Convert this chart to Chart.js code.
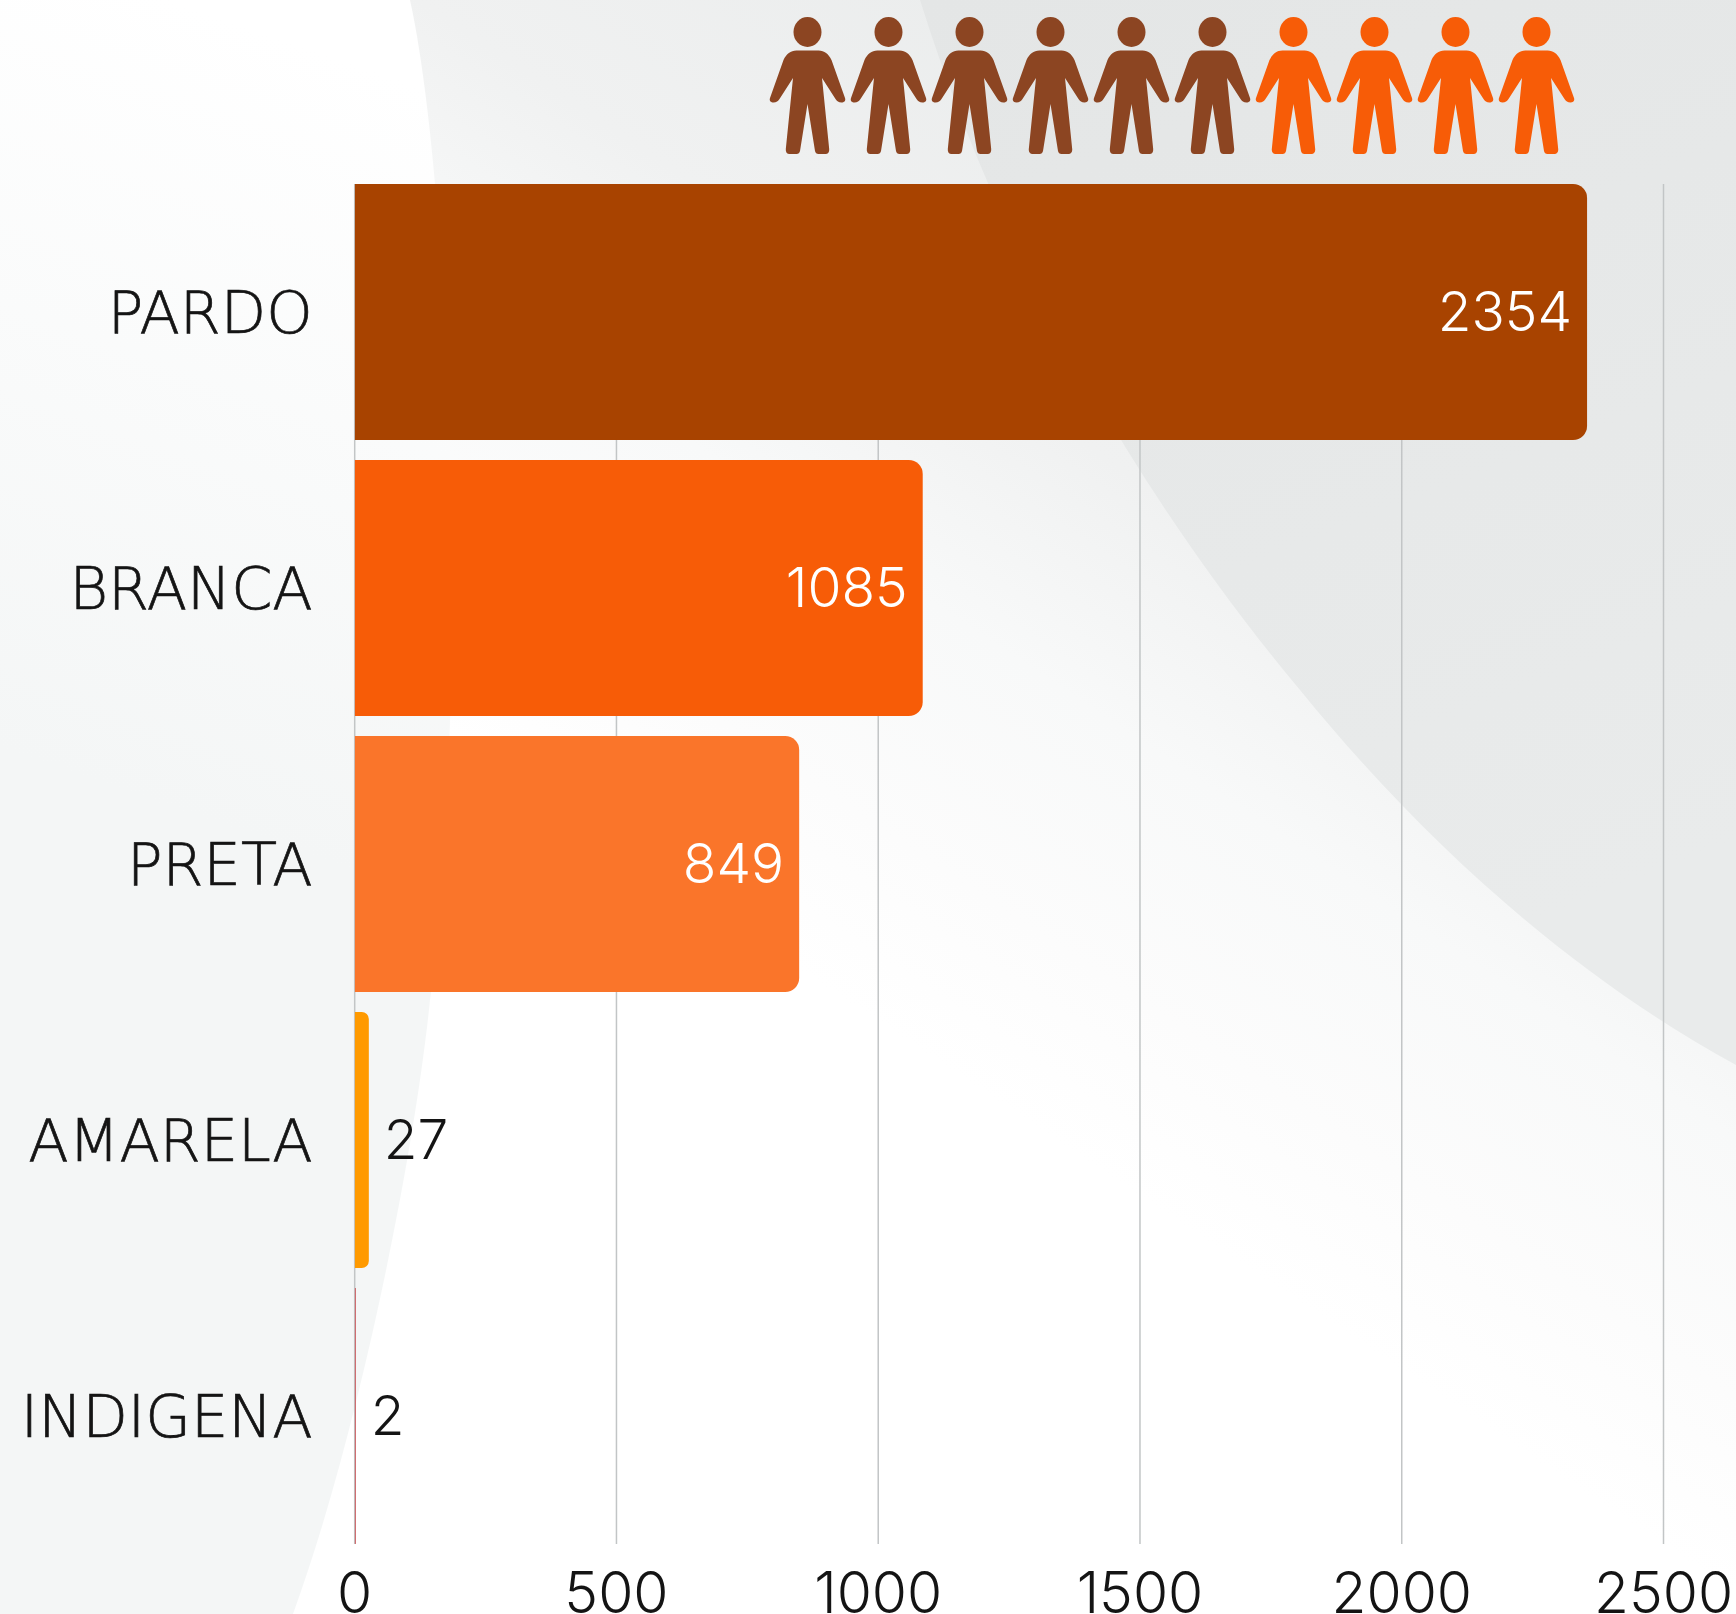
<!DOCTYPE html>
<html>
<head>
<meta charset="utf-8">
<title>Raça/cor</title>
<script src="https://cdn.jsdelivr.net/npm/chart.js@4"></script>
<style>
  html, body { margin: 0; padding: 0; background: #fff; }
  #wrap { position: relative; width: 1736px; height: 1614px; overflow: hidden; }
  #wrap svg, #wrap canvas { position: absolute; left: 0; top: 0; }
</style>
</head>
<body>
<div id="wrap">
  <svg id="bg" width="1736" height="1614" viewBox="0 0 1736 1614">
    <defs>
      <linearGradient id="midFade" gradientUnits="userSpaceOnUse" x1="1400" y1="200" x2="800" y2="1100">
        <stop offset="0" stop-color="#eaecec"/>
        <stop offset="0.35" stop-color="#f0f1f1"/>
        <stop offset="0.55" stop-color="#f8f9f9"/>
        <stop offset="0.75" stop-color="#fcfcfc"/>
        <stop offset="0.9" stop-color="#ffffff"/>
      </linearGradient>
      <linearGradient id="leftFade" gradientUnits="userSpaceOnUse" x1="400" y1="80" x2="150" y2="800">
        <stop offset="0" stop-color="#ffffff"/>
        <stop offset="1" stop-color="#f4f6f6"/>
      </linearGradient>
      <linearGradient id="rightFade" x1="0" y1="0" x2="0.3" y2="1">
        <stop offset="0" stop-color="#e4e6e6"/>
        <stop offset="1" stop-color="#e9ebeb"/>
      </linearGradient>
    </defs>
    <rect width="1736" height="1614" fill="url(#midFade)"/>
    <path d="M0 0H410C450 180 470 700 430 1000C415 1150 360 1430 293 1614H0Z" fill="url(#leftFade)"/>
    <path d="M920 0C995 240 1125 480 1300 690C1430 850 1580 980 1736 1065V0Z" fill="url(#rightFade)"/>
  </svg>
  <canvas id="chart" width="1736" height="1614"></canvas>
  <svg id="people" width="1736" height="1614" viewBox="0 0 1736 1614">
    <defs>
      <g id="person">
        <ellipse cx="0" cy="32" rx="14" ry="15"/>
        <path d="M-11 50.5H11C17 50.5 21 54 24 60L37.5 98C38.5 101 36.5 102.5 34 102.5C31 102.5 29.5 101 28 99L14.5 78L21.7 149C22 152 20.5 154 18 154H11C9 154 8 153 7.5 151L0 104L-7.5 151C-8 153 -9 154 -11 154H-18C-20.5 154 -22 152 -21.7 149L-14.5 78L-28 99C-29.5 101 -31 102.5 -34 102.5C-36.5 102.5 -38.5 101 -37.5 98L-24 60C-21 54 -17 50.5 -11 50.5Z"/>
      </g>
    </defs>
  </svg>
</div>
<script>
const categories = ['PARDO', 'BRANCA', 'PRETA', 'AMARELA', 'INDIGENA'];
const values = [2354, 1085, 849, 27, 2];
const barColors = ['#a84300', '#f75c07', '#fa752a', '#ff9a00', '#c8474a'];
const xTickValues = [0, 500, 1000, 1500, 2000, 2500];
const peopleColors = ['#8c4522', '#8c4522', '#8c4522', '#8c4522', '#8c4522', '#8c4522',
                      '#f75c07', '#f75c07', '#f75c07', '#f75c07'];

const labelFamily = '"DejaVu Sans", Inter, sans-serif';
const numberFamily = 'Inter, "Open Sans", sans-serif';
const textColor = '#141414';

// row of little people above the chart
const people = document.getElementById('people');
peopleColors.forEach((color, i) => {
    const use = document.createElementNS('http://www.w3.org/2000/svg', 'use');
    use.setAttribute('href', '#person');
    use.setAttribute('fill', color);
    use.setAttribute('transform', 'translate(' + (807.5 + i * 81) + ' 0)');
    people.appendChild(use);
});

// grid stops at the first and last bar edge, so it is drawn here and not by the axis
const gridPlugin = {
    id: 'shortGrid',
    beforeDatasetsDraw(chart) {
        const c = chart.ctx, x = chart.scales.x, y = chart.scales.y;
        const top = y.getPixelForValue(0) - 128, bottom = y.getPixelForValue(categories.length - 1) + 128;
        c.save();
        c.strokeStyle = '#c2c5c6';
        c.lineWidth = 1.5;
        xTickValues.forEach(v => {
            const px = x.getPixelForValue(v);
            c.beginPath();
            c.moveTo(px, top);
            c.lineTo(px, bottom);
            c.stroke();
        });
        c.restore();
    }
};

const valueLabels = {
    id: 'valueLabels',
    afterDatasetsDraw(chart) {
        const c = chart.ctx;
        c.save();
        c.font = '300 55px ' + numberFamily;
        c.textBaseline = 'middle';
        chart.getDatasetMeta(0).data.forEach((bar, i) => {
            if (values[i] > 100) {
                c.fillStyle = '#ffffff';
                c.textAlign = 'right';
                c.fillText(values[i], bar.x - 15, bar.y + 2);
            } else {
                c.fillStyle = textColor;
                c.textAlign = 'left';
                c.fillText(values[i], bar.x + 15, bar.y + 2);
            }
        });
        c.restore();
    }
};

new Chart(document.getElementById('chart'), {
    type: 'bar',
    data: {
        labels: categories,
        datasets: [{
            data: values,
            backgroundColor: barColors,
            borderRadius: { topRight: 14, bottomRight: 14 },
            borderSkipped: false,
            barPercentage: 0.9275,
            categoryPercentage: 1
        }]
    },
    options: {
        indexAxis: 'y',
        responsive: false,
        animation: false,
        layout: { padding: { top: 174, right: 72.5 } },
        plugins: { legend: { display: false }, tooltip: { enabled: false } },
        scales: {
            x: {
                min: xTickValues[0],
                max: xTickValues[xTickValues.length - 1],
                afterFit(s) { s.height = 60; s.paddingLeft = 0; s.paddingRight = 0; },
                grid: { display: false, drawTicks: false },
                border: { display: false },
                ticks: {
                    stepSize: 500, maxRotation: 0, padding: 8, color: textColor,
                    callback: v => String(v),
                    font: { family: numberFamily, size: 57, weight: '300' }
                }
            },
            y: {
                afterFit(s) { s.width = 354.7; s.paddingTop = 0; s.paddingBottom = 0; },
                grid: { display: false, drawTicks: false },
                border: { display: false },
                ticks: {
                    padding: 42, labelOffset: 5.5, color: textColor,
                    textStrokeColor: textColor, textStrokeWidth: 0.7,
                    font: { family: labelFamily, size: 59, weight: '200' }
                }
            }
        }
    },
    plugins: [gridPlugin, valueLabels]
});
</script>
</body>
</html>
